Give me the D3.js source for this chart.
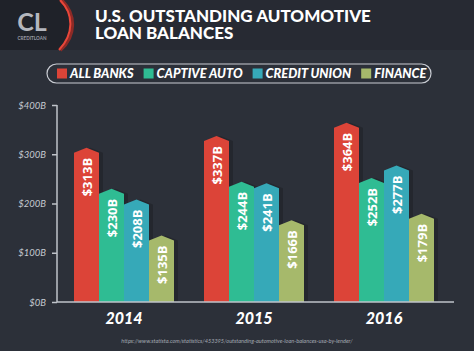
<!DOCTYPE html>
<html>
<head>
<meta charset="utf-8">
<script src="https://cdn.jsdelivr.net/npm/d3@7"></script>
<style>
  html, body { margin: 0; padding: 0; background: #2c3039; }
  svg { display: block; }
</style>
</head>
<body>
<div id="chart"></div>
<script>
// --- data ------------------------------------------------------------------
const years = ['2014', '2015', '2016'];
const lenders = ['ALL BANKS', 'CAPTIVE AUTO', 'CREDIT UNION', 'FINANCE'];
const allBanks = [313, 337, 364];
const captiveAuto = [230, 244, 252];
const creditUnion = [208, 241, 277];
const finance = [135, 166, 179];
const yTicks = [0, 100, 200, 300, 400];
const lenderColors = ['#dc4438', '#2fbc93', '#36a9b8', '#a6b96b'];

const W = 474, H = 351;
const series = [allBanks, captiveAuto, creditUnion, finance];

const svg = d3.select('#chart').append('svg')
  .attr('width', W).attr('height', H);

// background + header band
svg.append('rect').attr('width', W).attr('height', H).attr('fill', '#2c3039');
svg.append('rect').attr('width', W).attr('height', 50).attr('fill', '#272a33');

// logo panel with red swoosh
svg.append('path')
  .attr('d', 'M0,0 L61,0 C76,14 76,36 60,50 L0,50 Z')
  .attr('fill', '#1f2229');
svg.append('path')
  .attr('d', 'M61,0 C76,14 76,36 60,50')
  .attr('fill', 'none').attr('stroke', '#8e2a26').attr('stroke-width', 4);
svg.append('path')
  .attr('d', 'M60,0 C74,14 74,34 59,50')
  .attr('fill', 'none').attr('stroke', '#e8473a').attr('stroke-width', 2);
svg.append('text')
  .attr('x', 32).attr('y', 31)
  .attr('text-anchor', 'middle')
  .attr('font-family', 'Lato, sans-serif').attr('font-weight', 700)
  .attr('font-size', '25px').attr('fill', '#b4b7be')
  .text('CL');
svg.append('text')
  .attr('x', 32).attr('y', 39.5)
  .attr('text-anchor', 'middle')
  .attr('font-family', 'Lato, sans-serif').attr('font-weight', 700)
  .attr('font-size', '4.6px').attr('fill', '#9a9da5')
  .text('CREDITLOAN');

// title, two lines
svg.append('text')
  .attr('x', 95).attr('y', 22)
  .attr('font-family', 'Lato, sans-serif').attr('font-weight', 900)
  .attr('font-size', '17px').attr('fill', '#ffffff')
  .text('U.S. OUTSTANDING AUTOMOTIVE');
svg.append('text')
  .attr('x', 95).attr('y', 39)
  .attr('font-family', 'Lato, sans-serif').attr('font-weight', 900)
  .attr('font-size', '17px').attr('fill', '#ffffff')
  .text('LOAN BALANCES');

// legend pill
svg.append('rect')
  .attr('x', 47).attr('y', 64).attr('width', 384).attr('height', 19).attr('rx', 9.5)
  .attr('fill', 'none').attr('stroke', '#c9ccd3').attr('stroke-width', 1.2);
let lx = 57;
lenders.forEach((name, i) => {
  svg.append('rect')
    .attr('x', lx).attr('y', 68.5).attr('width', 10).attr('height', 10)
    .attr('fill', lenderColors[i]);
  const t = svg.append('text')
    .attr('x', lx + 13).attr('y', 78)
    .attr('font-family', 'Lato, sans-serif').attr('font-weight', 900)
    .attr('font-style', 'italic').attr('font-size', '12.8px').attr('fill', '#ffffff')
    .text(name);
  lx += 13 + t.node().getComputedTextLength() + 10;
});

// scales
const x0 = d3.scaleBand().domain(years).range([59, 449])
  .paddingInner(30 / 130).paddingOuter(15 / 130);
const x1 = d3.scaleBand().domain(lenders).range([0, x0.bandwidth()]).padding(0);
const y = d3.scaleLinear().domain([0, 400]).range([302, 105]);

// axis
const axisColor = '#bfc3ca';
const yAxis = svg.append('g')
  .attr('transform', 'translate(57,0)')
  .call(d3.axisLeft(y).tickValues(yTicks).tickSize(5).tickFormat(d => `$${d}B`));
yAxis.select('.domain').remove();
yAxis.selectAll('.tick line').attr('stroke', axisColor).attr('stroke-width', 1.5);
yAxis.selectAll('.tick text')
  .attr('x', -11)
  .attr('font-family', 'Lato, sans-serif').attr('font-style', 'italic')
  .attr('font-size', '9.5px').attr('fill', '#c4c8cf');
svg.append('line')
  .attr('x1', 57).attr('x2', 57).attr('y1', y(400)).attr('y2', y(0))
  .attr('stroke', axisColor).attr('stroke-width', 1.5);

// bars
const peak = 5;
const barPath = (bx, bw, v) => {
  const top = y(v), base = y(0);
  return `M${bx},${base} L${bx},${top + peak} L${bx + bw / 2},${top} ` +
    `L${bx + bw},${top + peak} L${bx + bw},${base} Z`;
};

years.forEach((yr, gi) => {
  const g = svg.append('g').attr('transform', `translate(${x0(yr)},0)`);
  lenders.forEach((name, si) => {
    const v = series[si][gi];
    const bx = x1(name), bw = x1.bandwidth();
    // soft shadow on the right
    g.append('path')
      .attr('d', barPath(bx + 4, bw, v))
      .attr('fill', '#000').attr('fill-opacity', 0.18);
  });
  lenders.forEach((name, si) => {
    const v = series[si][gi];
    const bx = x1(name), bw = x1.bandwidth();
    g.append('path')
      .attr('d', barPath(bx, bw, v))
      .attr('fill', lenderColors[si]);
    const cx = bx + bw / 2, ty = y(v) + 10;
    g.append('text')
      .attr('transform', `translate(${cx},${ty}) rotate(-90)`)
      .attr('text-anchor', 'end')
      .attr('dominant-baseline', 'central')
      .attr('font-family', '"Open Sans", sans-serif').attr('font-weight', 700)
      .attr('font-size', '13px').attr('fill', '#ffffff')
      .text(`$${v}B`);
  });
});

// baseline
svg.append('line')
  .attr('x1', 57).attr('x2', 454).attr('y1', y(0)).attr('y2', y(0))
  .attr('stroke', axisColor).attr('stroke-width', 1.5);

// year labels
years.forEach(yr => {
  svg.append('text')
    .attr('x', x0(yr) + x0.bandwidth() / 2).attr('y', 324)
    .attr('text-anchor', 'middle')
    .attr('font-family', 'Lato, sans-serif').attr('font-weight', 900)
    .attr('font-style', 'italic').attr('font-size', '16px').attr('fill', '#ffffff')
    .text(yr);
});

// source
svg.append('text')
  .attr('x', 237).attr('y', 343)
  .attr('text-anchor', 'middle')
  .attr('font-family', 'Lato, sans-serif').attr('font-style', 'italic')
  .attr('font-size', '5.6px').attr('fill', '#a3a8b1')
  .text('https://www.statista.com/statistics/453395/outstanding-automotive-loan-balances-usa-by-lender/');
</script>
</body>
</html>
